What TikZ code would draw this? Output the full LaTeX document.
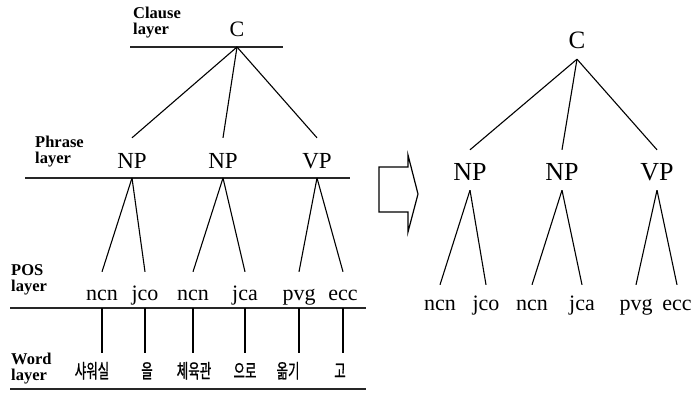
\documentclass[tikz,border=0pt]{standalone}
\usepackage{fontspec}
\setmainfont{Liberation Serif}
\newfontfamily\hangul[FakeStretch=0.64,FakeBold=1]{Noto Sans CJK KR}

\begin{document}
\begin{tikzpicture}[
    x=1pt, y=-1pt,
    layername/.style={anchor=base west, align=left, inner sep=0pt, font=\fontsize{16.5}{16}\selectfont\bfseries},
    phr/.style={anchor=base, inner sep=0pt, font=\fontsize{23}{23}\selectfont, text height=30pt},
    tag/.style={anchor=base, inner sep=0pt, font=\fontsize{22}{22}\selectfont, text height=28pt},
    wordtok/.style={anchor=base, inner sep=0pt, font=\hangul\fontsize{19.5}{19.5}\selectfont, text height=25pt},
    rphr/.style={phr, font=\fontsize{26}{26}\selectfont, text depth=10pt},
    rtag/.style={tag, text height=25pt},
    layerrule/.style={line width=2.2pt, black!85},
    branch/.style={line width=1.1pt}
]
\useasboundingbox (0,0) rectangle (693,392);

% Layer rules
\coordinate (clA) at (130,47);  \coordinate (clB) at (283,47);
\coordinate (phA) at (25,178);  \coordinate (phB) at (350,178);
\coordinate (psA) at (10,308);  \coordinate (psB) at (366,308);
\coordinate (wdA) at (10,389);  \coordinate (wdB) at (366,389);
\draw[layerrule] (clA) -- (clB);
\draw[layerrule] (phA) -- (phB);
\draw[layerrule] (psA) -- (psB);
\draw[layerrule] (wdA) -- (wdB);

% Layer names (anchored on the second line)
\node[layername] (clauseLbl) at (133,34) {Clause\\layer};
\node[layername] (phraseLbl) at (35,163) {Phrase\\layer};
\node[layername] (posLbl) at (11,291) {POS\\layer};
\node[layername] (wordLbl) at (11,380) {Word\\layer};

% Layered tree
\node[phr, font=\fontsize{22}{22}\selectfont] (lc) at (237,36) {C};
\node[phr] (lnp1) at (132,168) {NP};
\node[phr] (lnp2) at (223,168) {NP};
\node[phr] (lvp) at (317,168) {VP};

\node[tag] (lncn1) at (102,300) {ncn};
\node[tag] (ljco) at (145,300) {jco};
\node[tag] (lncn2) at (193,300) {ncn};
\node[tag] (ljca) at (245,300) {jca};
\node[tag] (lpvg) at (299,300) {pvg};
\node[tag] (lecc) at (343,300) {ecc};

\node[wordtok] (w1) at (92,378) {샤워실};
\node[wordtok] (w2) at (147,378) {을};
\node[wordtok] (w3) at (194,378) {체육관};
\node[wordtok] (w4) at (245,378) {으로};
\node[wordtok] (w5) at (288,378) {옮기};
\node[wordtok] (w6) at (340,378) {고};

\foreach \n in {lnp1,lnp2,lvp}
    \draw[branch] (lc |- clA) -- (\n.north);
\draw[branch] (lnp1 |- phA) -- (lncn1.north);
\draw[branch] (lnp1 |- phA) -- (ljco.north);
\draw[branch] (lnp2 |- phA) -- (lncn2.north);
\draw[branch] (lnp2 |- phA) -- (ljca.north);
\draw[branch] (lvp |- phA) -- (lpvg.north);
\draw[branch] (lvp |- phA) -- (lecc.north);

\draw[branch] (lncn1 |- psA) -- (lncn1 |- w1.north);
\draw[branch] (ljco |- psA) -- (ljco |- w2.north);
\draw[branch] (lncn2 |- psA) -- (lncn2 |- w3.north);
\draw[branch] (ljca |- psA) -- (ljca |- w4.north);
\draw[branch] (lpvg |- psA) -- (lpvg |- w5.north);
\draw[branch] (lecc |- psA) -- (lecc |- w6.north);

% Block arrow
\draw[line width=1.2pt] (379,167) -- (408,167) -- (408,155) -- (418,194)
    -- (408,232) -- (408,212) -- (379,212) -- cycle;

% Plain tree
\node[rphr, font=\fontsize{25}{25}\selectfont, text depth=11pt] (rc) at (577,48) {C};
\node[rphr] (rnp1) at (470,180) {NP};
\node[rphr] (rnp2) at (562,180) {NP};
\node[rphr] (rvp) at (657,180) {VP};

\node[rtag] (rncn1) at (440,310) {ncn};
\node[rtag] (rjco) at (486,310) {jco};
\node[rtag] (rncn2) at (532,310) {ncn};
\node[rtag] (rjca) at (582,310) {jca};
\node[rtag] (rpvg) at (636,310) {pvg};
\node[rtag] (recc) at (677,310) {ecc};

\foreach \n in {rnp1,rnp2,rvp}
    \draw[branch] (rc.south) -- (\n.north);
\draw[branch] (rnp1.south) -- (rncn1.north);
\draw[branch] (rnp1.south) -- (rjco.north);
\draw[branch] (rnp2.south) -- (rncn2.north);
\draw[branch] (rnp2.south) -- (rjca.north);
\draw[branch] (rvp.south) -- (rpvg.north);
\draw[branch] (rvp.south) -- (recc.north);

\end{tikzpicture}
\end{document}
